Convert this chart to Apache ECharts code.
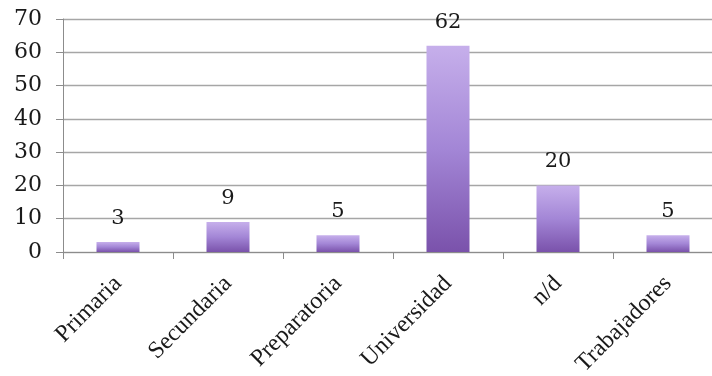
<!DOCTYPE html>
<html>
<head>
<meta charset="utf-8">
<script src="https://cdn.jsdelivr.net/npm/echarts@6/dist/echarts.min.js"></script>
<style>
  html, body { margin: 0; padding: 0; background: #fff; overflow: hidden; }
  #chart { width: 712px; height: 376px; }
</style>
</head>
<body>
<div id="chart"></div>
<script>
// Education level counts
const categories = ['Primaria', 'Secundaria', 'Preparatoria', 'Universidad', 'n/d', 'Trabajadores'];
const values = [3, 9, 5, 62, 20, 5];
const yTicks = [0, 10, 20, 30, 40, 50, 60, 70];

const chart = echarts.init(document.getElementById('chart'));

const barGradient = new echarts.graphic.LinearGradient(0, 0, 0, 1, [
  { offset: 0, color: '#c6afeb' },
  { offset: 0.5, color: '#a386d6' },
  { offset: 1, color: '#7a52ab' }
]);

// plot area runs slightly past the right edge of the canvas
chart.setOption({
  animation: false,
  backgroundColor: '#ffffff',
  grid: {
    left: 63, top: 19, width: 660, height: 233,
    containLabel: false,
    outerBoundsMode: 'none'
  },
  xAxis: {
    type: 'category',
    data: categories,
    axisLine: { show: true, lineStyle: { color: '#8c8c8c', width: 1 } },
    axisTick: { show: true, length: 7, lineStyle: { color: '#8c8c8c' } },
    axisLabel: {
      rotate: 45,
      interval: 0,
      margin: 28,
      fontFamily: 'Liberation Serif',
      fontSize: 24,
      color: '#1a1a1a'
    }
  },
  yAxis: {
    type: 'value',
    min: yTicks[0],
    max: yTicks[yTicks.length - 1],
    interval: 10,
    axisLine: { show: true, lineStyle: { color: '#8c8c8c', width: 1 } },
    axisTick: { show: true, length: 7, lineStyle: { color: '#8c8c8c' } },
    splitLine: { show: true, lineStyle: { color: '#a6a6a6', width: 1.3 } },
    axisLabel: {
      margin: 21,
      fontFamily: 'DejaVu Serif',
      fontSize: 22,
      color: '#1a1a1a'
    }
  },
  series: [{
    type: 'bar',
    data: values,
    barWidth: 43,
    itemStyle: { color: barGradient },
    label: {
      show: true,
      position: 'top',
      distance: 13,
      fontFamily: 'DejaVu Serif',
      fontSize: 21,
      color: '#1a1a1a'
    }
  }]
});
</script>
</body>
</html>
